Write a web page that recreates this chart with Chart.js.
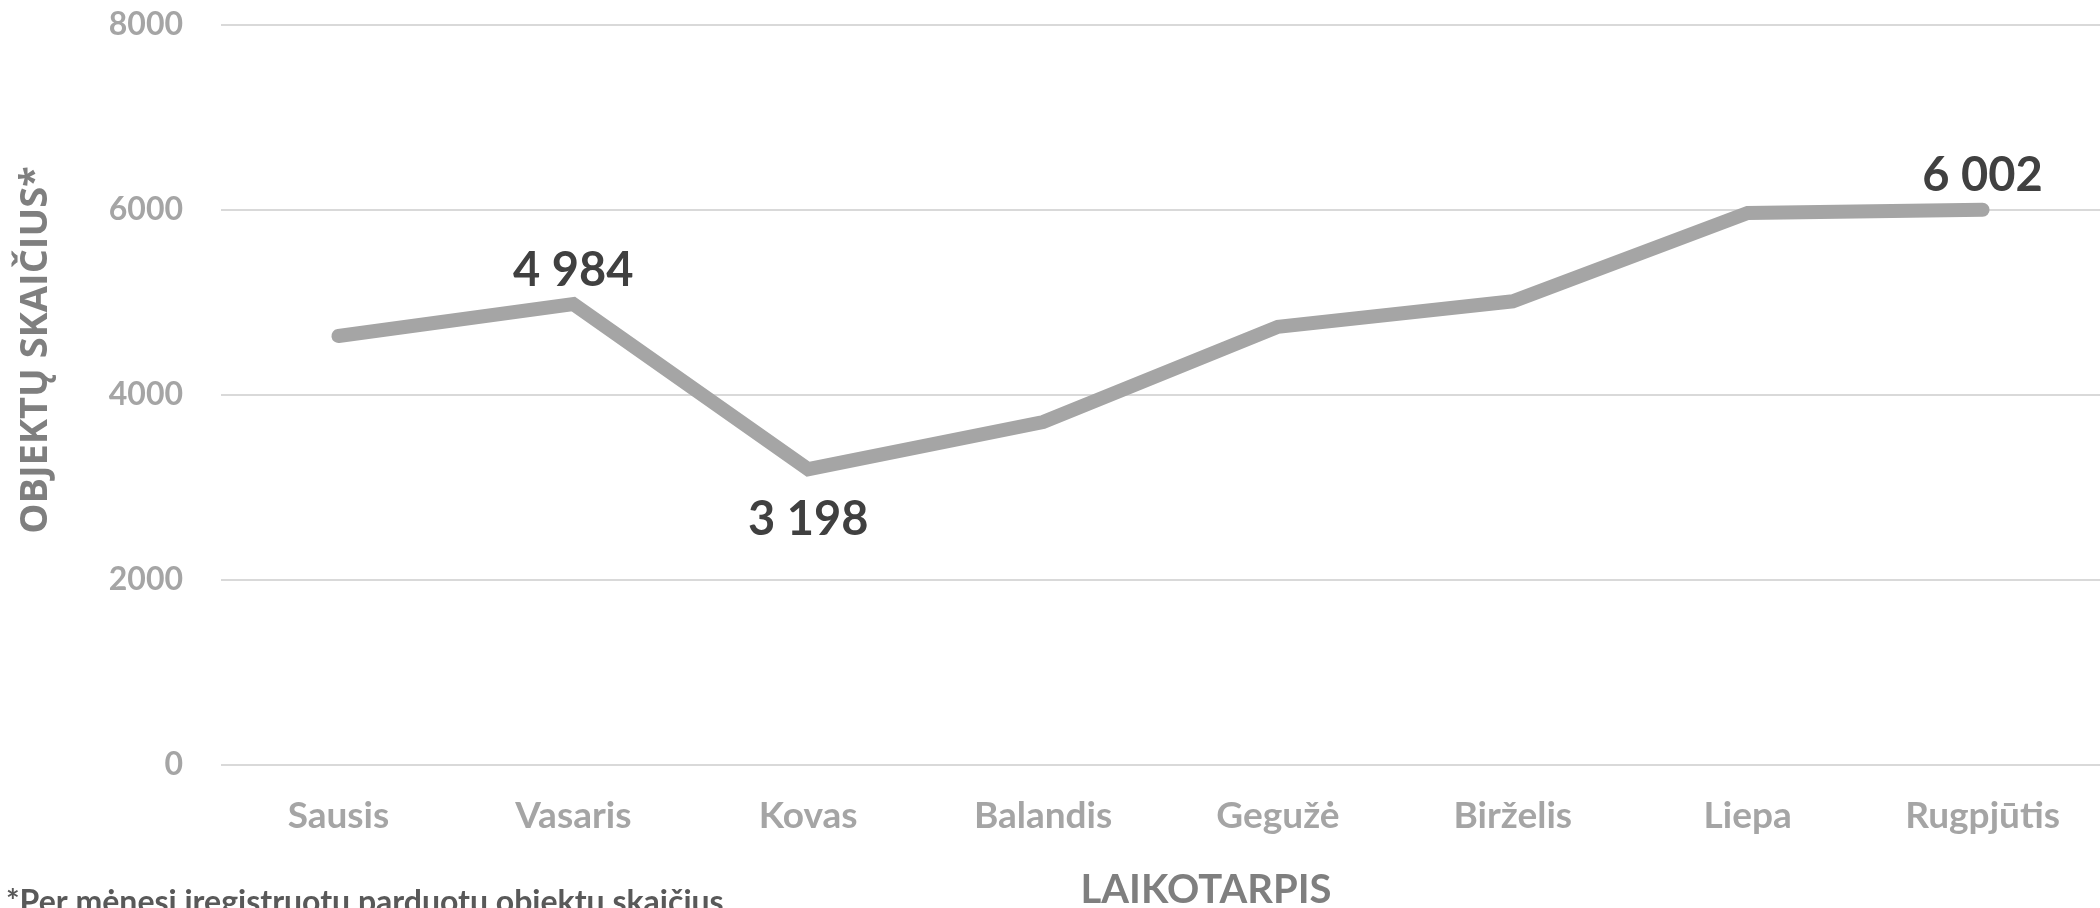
<!DOCTYPE html>
<html>
<head>
<meta charset="utf-8">
<script src="https://cdn.jsdelivr.net/npm/chart.js@4"></script>
<style>
  html, body { margin: 0; padding: 0; background: #ffffff; }
  #wrap { width: 2100px; height: 908px; position: relative; }
</style>
</head>
<body>
<div id="wrap"><canvas id="objChart"></canvas></div>
<script>
// Months (categories)
const months = ['Sausis', 'Vasaris', 'Kovas', 'Balandis', 'Gegužė', 'Birželis', 'Liepa', 'Rugpjūtis'];
// Registered sold objects per month
const objectCounts = [4638, 4984, 3198, 3708, 4737, 5013, 5968, 6002];
// Which points get a value label, and where
const labelPlacement = [null, 'above', 'below', null, null, null, null, 'above'];
// Y axis ticks
const yTicks = [0, 2000, 4000, 6000, 8000];

const yTitle = 'OBJEKTŲ SKAIČIUS*';
const xTitle = 'LAIKOTARPIS';
const footnote = '*Per mėnesį įregistruotų parduotų objektų skaičius';

const tickGrey = '#a5a5a5';
const titleGrey = '#7f7f7f';
const labelDark = '#404040';

// Format numbers with space as thousands separator, e.g. 4 984
function fmt(v) {
  return String(v).replace(/\B(?=(\d{3})+(?!\d))/g, ' ');
}

// Draws the value labels next to selected points
const valueLabels = {
  id: 'valueLabels',
  afterDatasetsDraw(chart) {
    const ctx = chart.ctx;
    const meta = chart.getDatasetMeta(0);
    ctx.save();
    ctx.font = 'bold 47px Lato';
    ctx.fillStyle = labelDark;
    ctx.textAlign = 'center';
    meta.data.forEach((pt, i) => {
      const place = labelPlacement[i];
      if (!place) return;
      if (place === 'above') {
        ctx.textBaseline = 'bottom';
        ctx.fillText(fmt(objectCounts[i]), pt.x, pt.y - 10);
      } else {
        ctx.textBaseline = 'top';
        ctx.fillText(fmt(objectCounts[i]), pt.x, pt.y + 27);
      }
    });
    ctx.restore();
  }
};

// Axis titles and footnote
const outerTexts = {
  id: 'outerTexts',
  afterDraw(chart) {
    const ctx = chart.ctx;
    ctx.save();
    // y title
    ctx.translate(36, 350);
    ctx.rotate(-Math.PI / 2);
    ctx.font = 'bold 38px "Open Sans"';
    ctx.fillStyle = titleGrey;
    ctx.textAlign = 'center';
    ctx.textBaseline = 'middle';
    ctx.fillText(yTitle, 0, 0);
    ctx.restore();

    ctx.save();
    ctx.font = 'bold 40px Lato';
    ctx.fillStyle = titleGrey;
    ctx.textAlign = 'center';
    ctx.textBaseline = 'middle';
    ctx.fillText(xTitle, 1206, 890);

    ctx.font = 'bold 32px Lato';
    ctx.fillStyle = '#595959';
    ctx.textAlign = 'left';
    ctx.textBaseline = 'top';
    ctx.fillText(footnote, 6, 887);
    ctx.restore();
  }
};

const ctx = document.getElementById('objChart').getContext('2d');

new Chart(ctx, {
  type: 'line',
  data: {
    labels: months,
    datasets: [{
      data: objectCounts,
      borderColor: '#a5a5a5',
      borderWidth: 14,
      borderCapStyle: 'round',
      pointRadius: 0,
      pointHoverRadius: 0,
      fill: false,
      tension: 0
    }]
  },
  options: {
    responsive: true,
    maintainAspectRatio: false,
    animation: false,
    layout: { padding: { top: 25, left: 0, right: 0, bottom: 0 } },
    plugins: {
      legend: { display: false },
      tooltip: { enabled: false }
    },
    scales: {
      x: {
        offset: true,
        grid: { display: false, drawTicks: false },
        border: { display: false },
        ticks: {
          color: tickGrey,
          padding: 29,
          font: { family: 'Lato', weight: 'bold', size: 37 }
        },
        afterFit: s => { s.height = 143; s.paddingLeft = 0; s.paddingRight = 0; }
      },
      y: {
        min: 0,
        max: 8000,
        afterBuildTicks: s => { s.ticks = yTicks.map(v => ({ value: v })); },
        grid: { color: '#d9d9d9', lineWidth: 2, drawTicks: false },
        border: { display: false },
        ticks: {
          color: tickGrey,
          padding: 38,
          font: { family: 'Lato', weight: 'bold', size: 32 },
          callback: v => String(v)
        },
        afterFit: s => { s.width = 221; s.paddingTop = 0; s.paddingBottom = 0; }
      }
    }
  },
  plugins: [valueLabels, outerTexts]
});
</script>
</body>
</html>
